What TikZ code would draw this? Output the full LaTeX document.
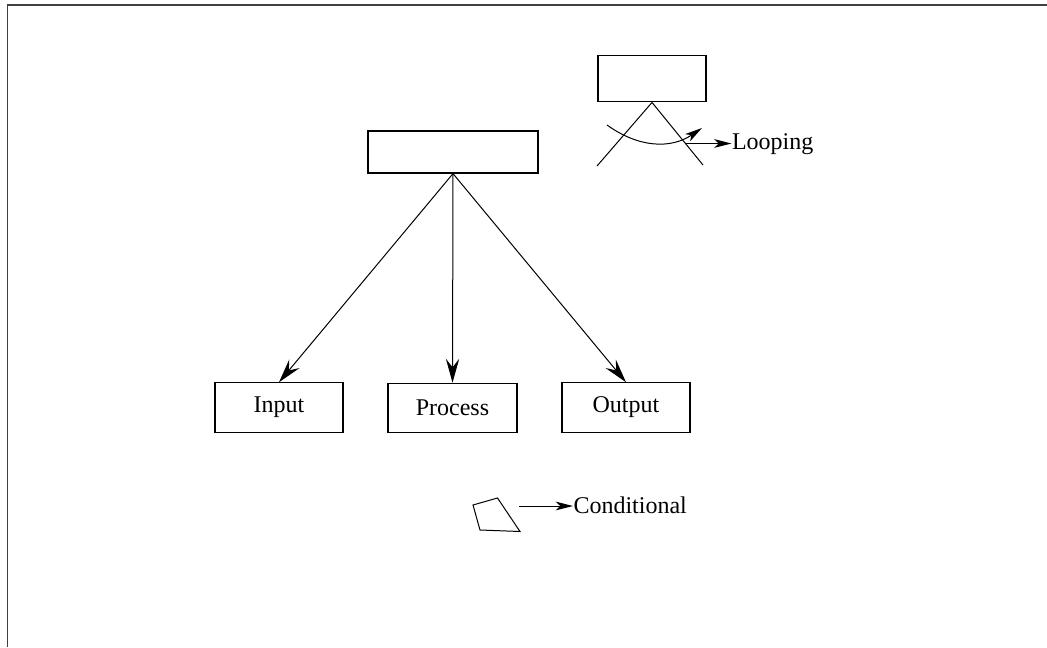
\documentclass[tikz,border=0pt]{standalone}
\usepackage{fontspec}
\setmainfont{Liberation Serif}
\usetikzlibrary{arrows.meta}
\begin{document}
\begin{tikzpicture}[x=0.75pt,y=-0.75pt,
  line width=0.75pt,
  box/.style={draw, rectangle, inner sep=0pt, line width=0.9pt},
  label/.style={font=\fontsize{18}{21}\selectfont, inner sep=0pt},
  bigarrow/.style={-{Stealth[length=18pt,width=10pt,inset=6.5pt]}},
  smallarrow/.style={-{Stealth[length=13pt,width=6.5pt,inset=3.5pt]}}]
  % page frame
  \useasboundingbox (0,0) rectangle (1047,647);
  \draw[line width=1.3pt, black!75] (7.5,647) -- (7.5,5) -- (1047,5);

  % hierarchy
  \node[box, minimum width=127.5pt, minimum height=31.5pt] (root) at (453,152) {};
  \node[box, label, minimum width=96pt, minimum height=37pt] (in) at (279,407.5) {Input};
  \node[box, label, minimum width=96.75pt, minimum height=37pt] (proc) at (452.5,408) {Process};
  \node[box, label, minimum width=96pt, minimum height=37pt] (out) at (626,407.5) {Output};
  \draw[bigarrow] (root.south) -- (in.north);
  \draw[bigarrow] (root.south) -- (proc.north);
  \draw[bigarrow] (root.south) -- (out.north);

  % looping symbol
  \node[box, minimum width=81pt, minimum height=35pt] (loopbox) at (652,78.5) {};
  \coordinate (legl) at (597,166);
  \coordinate (legr) at (703,165);
  \draw (legl) -- (loopbox.south) -- (legr);
  \coordinate (arcs) at (607,125);
  \coordinate (arce) at (702,128);
  \draw[smallarrow] (arcs) .. controls (639,148) and (671,149) .. (arce);
  \coordinate (loopfrom) at (686,143.5);
  \node[label, anchor=west] (looptext) at (731.5,144) {Looping};
  \draw[smallarrow] (loopfrom) -- (looptext.west |- loopfrom);

  % conditional symbol
  \coordinate (qa) at (473,505);
  \coordinate (qb) at (497.5,498);
  \coordinate (qc) at (520,531.5);
  \coordinate (qd) at (480,530);
  \draw (qa) -- (qb) -- (qc) -- (qd) -- cycle;
  \coordinate (condfrom) at (519,506);
  \node[label, anchor=west] (condtext) at (573,505.5) {Conditional};
  \draw[smallarrow] (condfrom) -- (condtext.west |- condfrom);
\end{tikzpicture}
\end{document}
